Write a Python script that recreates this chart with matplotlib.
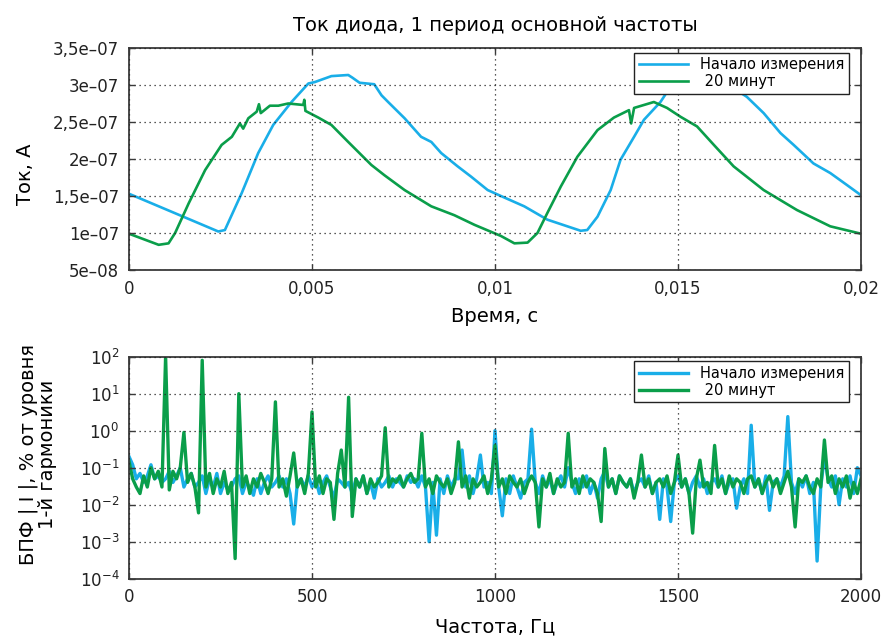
import numpy as np
import matplotlib
matplotlib.use("Agg")
from matplotlib import pyplot as plt
from matplotlib.ticker import FixedLocator, FixedFormatter

plt.rcParams['font.family'] = ['DejaVu Sans']
plt.rcParams['mathtext.fontset'] = 'dejavusans'

BLUE = '#19aee8'
GREEN = '#0a9e4a'

# diode current over one mains period, time in ms, current in 1e-7 A
t_start = [0, 2.44, 2.62, 3.08, 3.53, 3.94, 4.44, 4.9, 5.08, 5.53, 5.99, 6.1, 6.3, 6.7,
           6.9, 7.08, 7.53, 7.98, 8.26, 8.53, 8.98, 9.35, 9.8, 10.16, 10.8, 11.43, 12.34,
           12.52, 12.8, 13.16, 13.43, 13.8, 14.07, 14.52, 14.8, 15.1, 15.5, 15.95, 16.2,
           16.6, 16.88, 17.34, 17.8, 18.16, 18.7, 19.16, 19.61, 20]
i_start = [1.53, 1.02, 1.04, 1.54, 2.08, 2.46, 2.77, 3.02, 3.04, 3.12, 3.135, 3.10, 3.03, 3.01,
           2.86, 2.77, 2.55, 2.30, 2.23, 2.08, 1.90, 1.76, 1.58, 1.50, 1.36, 1.18, 1.03,
           1.04, 1.22, 1.58, 1.99, 2.30, 2.53, 2.77, 2.98, 3.06, 3.12, 3.13, 3.05,
           2.93, 2.84, 2.62, 2.35, 2.19, 1.94, 1.81, 1.65, 1.51]

t_20min = [0, 0.81, 1.08, 1.26, 1.63, 2.08, 2.53, 2.81, 3.03, 3.12, 3.26, 3.49, 3.55, 3.6,
           3.85, 4.08, 4.35, 4.76, 4.79, 4.82, 5.17, 5.53, 5.99, 6.62, 6.98, 7.53, 8.26,
           8.89, 9.44, 10.16, 10.53, 10.89, 11.16, 11.43, 11.8, 12.25, 12.8, 13.25, 13.66,
           13.72, 13.8, 14.34, 14.7, 15.07, 15.52, 15.98, 16.52, 17.34, 18.25, 19.16, 20]
i_20min = [0.99, 0.84, 0.86, 1.00, 1.40, 1.85, 2.19, 2.30, 2.48, 2.41, 2.55, 2.64, 2.74, 2.62,
           2.72, 2.72, 2.75, 2.73, 2.80, 2.65, 2.56, 2.46, 2.23, 1.92, 1.78, 1.58, 1.36,
           1.24, 1.11, 0.96, 0.86, 0.87, 1.00, 1.27, 1.63, 2.03, 2.39, 2.56, 2.66,
           2.48, 2.69, 2.77, 2.69, 2.57, 2.44, 2.19, 1.90, 1.58, 1.31, 1.09, 0.99]

# FFT magnitude, % of 1st harmonic, 10 Hz steps from 0 to 2000 Hz
freq = np.arange(0, 2001, 10)
fft_start = [
    0.2, 0.12, 0.05, 0.07, 0.04, 0.06, 0.12, 0.05, 0.06, 0.04,
    0.05, 0.08, 0.04, 0.06, 0.1, 0.03, 0.05, 0.07, 0.03, 0.04,
    0.06, 0.02, 0.05, 0.03, 0.07, 0.02, 0.04, 0.025, 0.03, 0.05,
    0.06, 0.02, 0.04, 0.03, 0.018, 0.05, 0.02, 0.04, 0.06, 0.03,
    0.04, 0.06, 0.03, 0.05, 0.02, 0.003, 0.04, 0.05, 0.03, 0.06,
    0.03, 0.05, 0.02, 0.04, 0.06, 0.03, 0.015, 0.05, 0.04, 0.03,
    0.04, 0.02, 0.05, 0.03, 0.06, 0.02, 0.04, 0.015, 0.05, 0.03,
    0.04, 0.06, 0.03, 0.05, 0.04, 0.03, 0.06, 0.04, 0.05, 0.03,
    0.06, 0.03, 0.001, 0.04, 0.0015, 0.05, 0.02, 0.06, 0.03, 0.05,
    0.05, 0.3, 0.03, 0.06, 0.02, 0.05, 0.22, 0.03, 0.04, 0.02,
    1.0, 0.03, 0.005, 0.05, 0.02, 0.06, 0.03, 0.015, 0.04, 0.05,
    1.1, 0.04, 0.02, 0.06, 0.03, 0.05, 0.02, 0.04, 0.06, 0.03,
    0.1, 0.04, 0.02, 0.05, 0.03, 0.06, 0.02, 0.04, 0.015, 0.05,
    0.08, 0.03, 0.05, 0.02, 0.06, 0.04, 0.03, 0.05, 0.02, 0.04,
    0.05, 0.03, 0.06, 0.02, 0.04, 0.004, 0.05, 0.03, 0.0035, 0.04,
    0.06, 0.03, 0.05, 0.02, 0.04, 0.06, 0.03, 0.05, 0.02, 0.04,
    0.05, 0.03, 0.06, 0.02, 0.04, 0.05, 0.008, 0.03, 0.05, 0.02,
    1.4, 0.03, 0.05, 0.02, 0.06, 0.007, 0.04, 0.05, 0.03, 0.06,
    2.4, 0.04, 0.02, 0.05, 0.03, 0.06, 0.02, 0.04, 0.0003, 0.03,
    0.2, 0.05, 0.03, 0.06, 0.01, 0.05, 0.03, 0.06, 0.02, 0.1,
    0.06]
fft_20min = [
    0.15, 0.05, 0.03, 0.02, 0.06, 0.03, 0.1, 0.05, 0.08, 0.03,
    100, 0.025, 0.08, 0.05, 0.1, 0.9, 0.04, 0.07, 0.03, 0.006,
    80, 0.03, 0.07, 0.02, 0.05, 0.03, 0.08, 0.02, 0.04, 0.00035,
    10, 0.03, 0.06, 0.02, 0.05, 0.03, 0.07, 0.04, 0.02, 0.05,
    6, 0.03, 0.05, 0.017, 0.06, 0.25, 0.03, 0.05, 0.02, 0.07,
    3.2, 0.03, 0.06, 0.02, 0.05, 0.04, 0.004, 0.07, 0.3, 0.03,
    8, 0.0048, 0.05, 0.03, 0.06, 0.02, 0.05, 0.03, 0.04, 0.06,
    1.2, 0.03, 0.05, 0.04, 0.06, 0.03, 0.05, 0.07, 0.04, 0.05,
    0.85, 0.03, 0.05, 0.02, 0.06, 0.04, 0.03, 0.05, 0.02, 0.04,
    0.5, 0.03, 0.06, 0.015, 0.05, 0.03, 0.04, 0.06, 0.02, 0.05,
    0.4, 0.03, 0.05, 0.02, 0.06, 0.04, 0.03, 0.05, 0.02, 0.04,
    0.06, 0.04, 0.0025, 0.05, 0.03, 0.07, 0.02, 0.05, 0.03, 0.04,
    0.85, 0.03, 0.05, 0.02, 0.06, 0.03, 0.05, 0.04, 0.02, 0.0035,
    0.33, 0.03, 0.05, 0.02, 0.06, 0.04, 0.03, 0.05, 0.015, 0.04,
    0.22, 0.03, 0.05, 0.02, 0.04, 0.05, 0.03, 0.06, 0.02, 0.04,
    0.22, 0.03, 0.05, 0.02, 0.0017, 0.05, 0.16, 0.03, 0.04, 0.02,
    0.4, 0.03, 0.05, 0.02, 0.06, 0.03, 0.05, 0.04, 0.02, 0.05,
    0.06, 0.03, 0.05, 0.02, 0.04, 0.06, 0.03, 0.05, 0.02, 0.04,
    0.08, 0.03, 0.0025, 0.05, 0.04, 0.06, 0.03, 0.02, 0.05, 0.03,
    0.56, 0.04, 0.06, 0.02, 0.05, 0.03, 0.06, 0.015, 0.04, 0.02,
    0.05]

series_names = ['Начало измерения', ' 20 минут']
cur_ticks = [0.5e-7, 1e-7, 1.5e-7, 2e-7, 2.5e-7, 3e-7, 3.5e-7]
cur_labels = ['5e\u201308', '1e\u201307', '1,5e\u201307', '2e\u201307', '2,5e\u201307', '3e\u201307', '3,5e\u201307']
time_ticks = [0, 0.005, 0.01, 0.015, 0.02]
time_labels = ['0', '0,005', '0,01', '0,015', '0,02']

fig = plt.figure(figsize=(8.83, 6.39), dpi=100)
ax1 = fig.add_axes([0.1461, 0.5775, 0.8290, 0.3474])
ax2 = fig.add_axes([0.1461, 0.0944, 0.8290, 0.3474])


def style(ax):
    for s in ax.spines.values():
        s.set_color('#3a3a3a')
        s.set_linewidth(1.3)
    ax.tick_params(direction='in', top=True, right=True, length=4, width=1,
                   color='#3a3a3a', labelsize=12, pad=7, labelcolor='#222222')
    ax.grid(True, linestyle=(0, (1, 3)), color='#222222', linewidth=0.9)
    ax.set_axisbelow(False)


# top: current waveform
ax1.plot(np.array(t_start) * 1e-3, np.array(i_start) * 1e-7, color=BLUE, lw=1.9,
         label=series_names[0])
ax1.plot(np.array(t_20min) * 1e-3, np.array(i_20min) * 1e-7, color=GREEN, lw=1.9,
         label=series_names[1])
ax1.set_xlim(0, 0.02)
ax1.set_ylim(0.5e-7, 3.5e-7)
ax1.yaxis.set_major_locator(FixedLocator(cur_ticks))
ax1.yaxis.set_major_formatter(FixedFormatter(cur_labels))
ax1.xaxis.set_major_locator(FixedLocator(time_ticks))
ax1.xaxis.set_major_formatter(FixedFormatter(time_labels))
style(ax1)
ax1.set_title('Ток диода, 1 период основной частоты', fontsize=14, pad=12)
ax1.set_xlabel('Время, с', fontsize=14, labelpad=7)
ax1.set_ylabel('Ток, А', fontsize=14)
ax1.yaxis.set_label_coords(-0.128, 0.43)

# bottom: spectrum
ax2.plot(freq, fft_start, color=BLUE, lw=2.4, label=series_names[0])
ax2.plot(freq, fft_20min, color=GREEN, lw=2.4, label=series_names[1])
ax2.set_yscale('log')
ax2.set_xlim(0, 2000)
ax2.set_ylim(1e-4, 1e2)
ax2.set_xticks([0, 500, 1000, 1500, 2000])
ax2.yaxis.set_major_locator(FixedLocator([1e-4, 1e-3, 1e-2, 1e-1, 1e0, 1e1, 1e2]))
ax2.yaxis.set_minor_locator(FixedLocator([]))
style(ax2)
ax2.set_xlabel('Частота, Гц', fontsize=14, labelpad=8)
ax2.set_ylabel('БПФ | I |, % от уровня\n1-й гармоники', fontsize=14,
               linespacing=1.0)
ax2.yaxis.set_label_coords(-0.098, 0.56)

for ax in (ax1, ax2):
    leg = ax.legend(loc='upper right', bbox_to_anchor=(0.985, 0.985), fontsize=10.5,
                    frameon=True, fancybox=False, framealpha=1, edgecolor='#222222',
                    handlelength=3.4, borderpad=0.3, labelspacing=0.15,
                    borderaxespad=0.1)
    leg.get_frame().set_linewidth(1.0)

fig.savefig('out.png', dpi=100)
